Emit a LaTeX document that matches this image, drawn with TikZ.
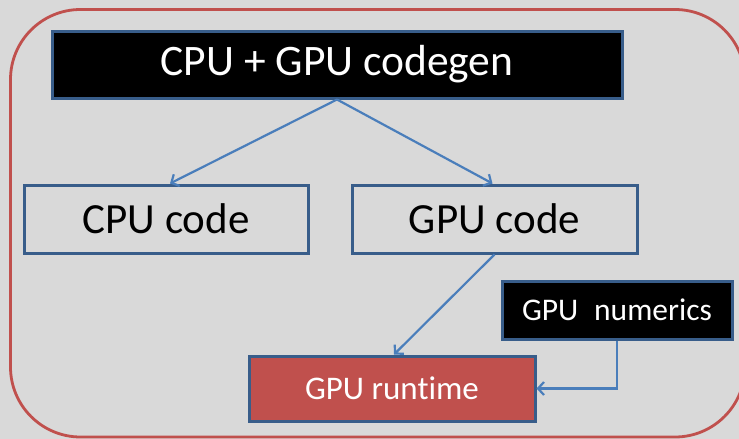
\documentclass[tikz,border=0pt]{standalone}
\usepackage{fontspec}
\setmainfont{Carlito}[Ligatures={NoCommon}]
\usetikzlibrary{arrows.meta}
\definecolor{bg}{HTML}{D9D9D9}
\definecolor{framered}{HTML}{C0504D}
\definecolor{boxblue}{HTML}{385D8A}
\definecolor{arrowblue}{HTML}{4A7EBB}
\begin{document}
\begin{tikzpicture}[x=1pt,y=-1pt,
  boxbase/.style={draw=boxblue, line width=3pt, inner sep=0pt, anchor=center},
  darkbox/.style={boxbase, fill=black, text=white},
  lightbox/.style={boxbase, fill=bg, text=black},
  redbox/.style={boxbase, fill=framered, text=white},
  conn/.style={draw=arrowblue, line width=2.2pt, -{Straight Barb[length=6pt,width=13pt,line width=2.2pt]}}
]
\useasboundingbox (0,0) rectangle (739,439);
\fill[bg] (0,0) rectangle (739,439);
\begin{scope}
\clip (0,0) rectangle (739,439);
\draw[framered, line width=2.8pt, rounded corners=70pt] (10.5,9.5) rectangle (745,437);
\end{scope}

\node[darkbox, minimum width=570pt, minimum height=67pt, font=\fontsize{43.5}{48}\selectfont] (top) at (337,64.5) {CPU + GPU codegen};
\node[lightbox, minimum width=284pt, minimum height=68pt, font=\fontsize{43}{48}\selectfont] (cpu) at (166,219) {CPU code};
\node[lightbox, minimum width=285pt, minimum height=68pt, font=\fontsize{43}{48}\selectfont] (gpu) at (494.5,219) {GPU code};
\node[darkbox, minimum width=230pt, minimum height=58pt, font=\fontsize{31.5}{34}\selectfont] (num) at (617,310) {GPU\hspace{0.5em}numerics};
\node[redbox, minimum width=286pt, minimum height=65pt, font=\fontsize{33}{36}\selectfont] (rt) at (392,388.5) {GPU runtime};

\draw[conn] (top.south) -- ([xshift=4pt]cpu.north);
\draw[conn] (top.south) -- ([xshift=-2pt]gpu.north);
\draw[conn] (gpu.south) -- ([xshift=2pt]rt.north);
\draw[conn] (num.south) |- (rt.east);
\end{tikzpicture}
\end{document}
